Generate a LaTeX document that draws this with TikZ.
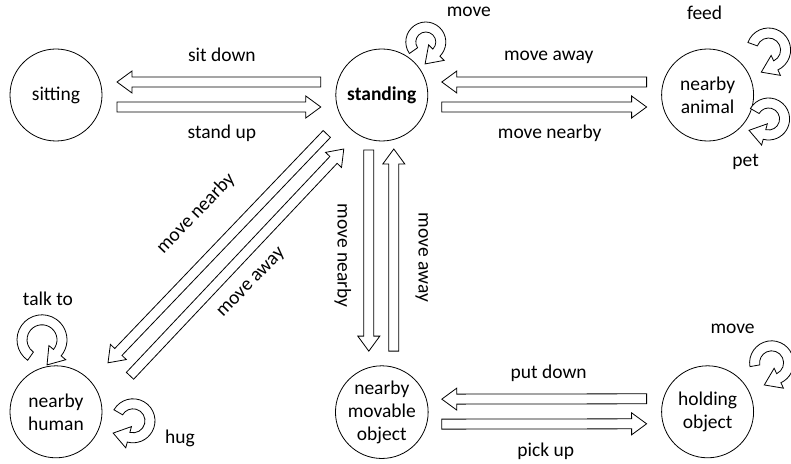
\documentclass[tikz,border=0pt]{standalone}
\usepackage{fontspec}
\setmainfont{Carlito}
\usetikzlibrary{calc, positioning}
\tikzset{%
  state/.style={%
    circle,%
    draw=black,%
    line width=0.8pt,%
    minimum size=92pt,%
    inner sep=0pt,%
    align=center,%
    font={\fontsize{19.5}{23}\selectfont},%
  },
  annotate/.style={%
    font={\fontsize{19.5}{23}\selectfont},%
  },
  hollow_line/.style={%
    draw=black,%
    fill=white,%
    line width=0.8pt,%
    line join=miter,%
  },
  hollow_arrow/.style={%
    hollow_line,%
    to path={%
      let \p1=(\tikztostart), \p2=(\tikztotarget),
          \p3=($(\p2)!15pt!(\p1)$) in
      ($(\p1)!5pt!90:(\p2)$) -- ($(\p3)!5pt!90:(\p2)$)
      -- ($(\p3)!11pt!90:(\p2)$) -- (\p2)
      -- ($(\p3)!11pt!-90:(\p2)$) -- ($(\p3)!5pt!-90:(\p2)$)
      -- ($(\p1)!5pt!-90:(\p2)$) -- cycle
    },%
  },
  pics/turn/.style n args={4}{code={%
    \draw [hollow_line]
      (#1:#3) arc [start angle=#1, end angle=#2, radius=#3]
      -- (#2:{#3+6})
      -- ($(#2:{(#3+#4)/2})+({#2-90}:16)$)
      -- (#2:{#4-6})
      -- (#2:#4) arc [start angle=#2, end angle=#1, radius=#4]
      -- cycle;
  }},
}

\begin{document}
\begin{tikzpicture}[x=1pt, y=1pt]

    \useasboundingbox (0,0) rectangle (791,463);

    \node [state] (Sitting) at (56, 368) {sitting};
    \node [state, right = 233pt of Sitting,
      font={\fontsize{19.5}{23}\selectfont\bfseries}] (Standing) {standing};
    \node [state, right = 233pt of Standing] (Animal) {nearby\\animal};
    \node [state, below = 224pt of Sitting] (Human) {nearby\\human};
    \node [state, below = 224pt of Standing] (Movable) {nearby\\movable\\object};
    \node [state, below = 224pt of Animal] (Holding) {holding\\object};

    % top row
    \draw [hollow_arrow]
      ($(Standing)+(-61,13)$) to ($(Sitting)+(61,13)$);
    \draw [hollow_arrow]
      ($(Sitting)+(61,-12)$) to ($(Standing)+(-61,-12)$);
    \draw [hollow_arrow]
      ($(Animal)+(-61,13)$) to ($(Standing)+(60,13)$);
    \draw [hollow_arrow]
      ($(Standing)+(60,-12)$) to ($(Animal)+(-61,-12)$);

    % bottom row
    \draw [hollow_arrow]
      ($(Holding)+(-61,13)$) to ($(Movable)+(60,13)$);
    \draw [hollow_arrow]
      ($(Movable)+(60,-12)$) to ($(Holding)+(-61,-12)$);

    % down and across
    \draw [hollow_arrow]
      ($(Standing)+(-13,-55)$) to ($(Movable)+(-13,61)$);
    \draw [hollow_arrow]
      ($(Movable)+(12,61)$) to ($(Standing)+(12,-54)$);
    \draw [hollow_arrow]
      ($(Standing)+(-55,-39)$) to ($(Human)+(52,49)$);
    \draw [hollow_arrow]
      ($(Human)+(74,36)$) to ($(Standing)+(-38,-54)$);

    \node [annotate] (sit_down) at ($(Sitting)!0.5!(Standing)+(3,40)$) {sit down};
    \node [annotate] (stand_up) at ($(Sitting)!0.5!(Standing)+(3,-38)$) {stand up};
    \node [annotate] (move_away) at ($(Standing)!0.5!(Animal)+(4,38)$) {move away};
    \node [annotate] (move_nearby) at ($(Standing)!0.5!(Animal)+(5,-38)$) {move nearby};
    \node [annotate] (put_down) at ($(Movable)!0.5!(Holding)+(4,39)$) {put down};
    \node [annotate] (pick_up) at ($(Movable)!0.5!(Holding)+(1,-39)$) {pick up};
    \node [annotate, rotate=-90] (down_nearby) at ($(Standing)!0.5!(Movable)+(-39,-2)$) {move nearby};
    \node [annotate, rotate=-90] (up_away) at ($(Standing)!0.5!(Movable)+(40,-4)$) {move away};
    \node [annotate, rotate=46] (diag_nearby) at ($(Standing)!0.5!(Human)+(-23,40)$) {move nearby};
    \node [annotate, rotate=46] (diag_away) at ($(Standing)!0.5!(Human)+(33,-30)$) {move away};

    % self loops
    \pic at ($(Standing)+(44,53)$) {turn={215}{-45}{20}{10}};
    \pic at ($(Animal)+(61,45)$) {turn={160}{-65}{22}{12}};
    \pic at ($(Animal)+(61,-24)$) {turn={150}{-105}{21}{11}};
    \pic at ($(Human)+(-14,72)$) {turn={235}{-40}{25}{15}};
    \pic at ($(Human)+(77,-9)$) {turn={150}{-105}{22}{12}};
    \pic at ($(Holding)+(64,49)$) {turn={190}{-65}{22}{12}};

    \node [annotate] (standing_move) at ($(Standing)+(87,83)$) {move};
    \node [annotate] (feed) at ($(Animal)+(-3,82)$) {feed};
    \node [annotate] (pet) at ($(Animal)+(38,-67)$) {pet};
    \node [annotate] (talk_to) at ($(Human)+(-8,113)$) {talk to};
    \node [annotate] (hug) at ($(Human)+(124,-27)$) {hug};
    \node [annotate] (holding_move) at ($(Holding)+(25,83)$) {move};

\end{tikzpicture}
\end{document}
